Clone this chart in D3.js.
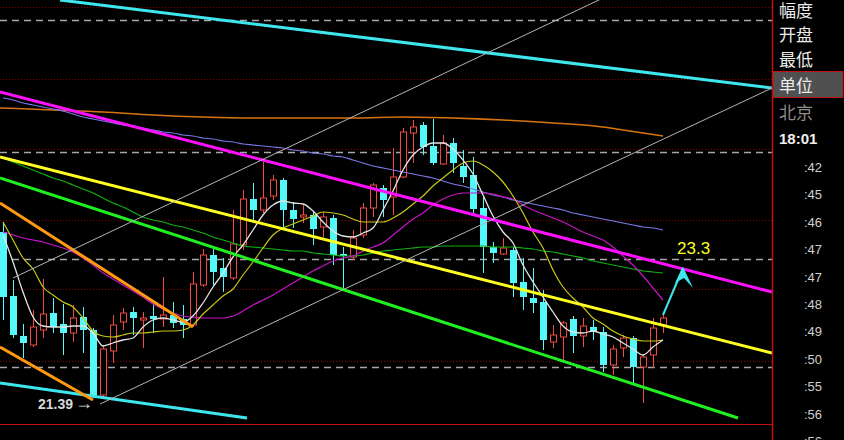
<!DOCTYPE html>
<html><head><meta charset="utf-8">
<script src="https://cdn.jsdelivr.net/npm/d3@7/dist/d3.min.js"></script>
<style>html,body{margin:0;padding:0;background:#000;overflow:hidden}</style>
</head><body><svg id="c" width="844" height="440"></svg>
<script>
// ---------- DATA ----------
const openP=[23.05,22.41,22.01,21.92,22.07,22.24,22.13,22.04,22.20,22.07,21.42,21.86,22.15,22.25,22.17,22.21,22.18,22.22,22.18,22.12,22.52,22.82,22.69,22.59,22.92,23.38,23.27,23.41,23.57,23.27,23.20,23.22,23.10,23.19,22.83,22.80,23.02,23.29,23.49,23.40,23.60,24.04,24.12,23.91,23.73,23.94,23.71,23.62,23.29,22.90,22.83,22.87,22.55,22.39,22.35,21.95,22.00,22.18,22.01,22.10,22.05,21.72,21.89,21.99,21.70,21.82,22.12];
const highP=[23.15,22.57,22.13,22.27,22.58,22.39,22.33,22.32,22.30,22.09,21.92,22.22,22.29,22.30,22.25,22.33,22.60,22.35,22.32,22.65,22.88,22.88,22.79,23.27,23.47,23.54,23.77,23.62,23.59,23.35,23.32,23.25,23.25,23.22,22.90,23.07,23.34,23.54,23.52,23.89,24.09,24.17,24.15,24.18,24.02,23.99,23.87,23.80,23.40,22.95,22.99,22.90,22.79,22.69,22.47,22.12,22.16,22.21,22.19,22.17,22.10,21.92,22.02,22.01,21.83,22.19,22.22];
const lowP=[22.17,21.99,21.79,21.90,21.99,22.04,21.82,21.95,21.84,21.39,21.40,21.74,22.07,22.02,21.89,22.04,22.10,22.09,21.99,22.10,22.50,22.52,22.45,22.57,22.87,23.16,23.24,23.37,23.10,23.09,23.14,22.92,23.00,22.72,22.49,22.77,22.99,23.20,23.20,23.22,23.59,23.74,23.82,23.72,23.72,23.64,23.54,23.24,22.64,22.74,22.82,22.40,22.27,22.24,21.87,21.89,21.77,21.84,21.90,21.97,21.65,21.62,21.80,21.54,21.34,21.69,22.04];
const closeP=[22.40,22.02,21.94,22.10,22.23,22.10,22.04,22.19,22.07,21.42,21.88,22.12,22.24,22.19,22.19,22.18,22.22,22.14,22.12,22.53,22.82,22.65,22.60,22.93,23.38,23.27,23.39,23.57,23.27,23.18,23.22,23.08,23.20,22.82,22.81,22.99,23.29,23.52,23.37,23.60,24.05,24.10,23.90,23.74,23.94,23.74,23.60,23.28,22.90,22.84,22.89,22.54,22.40,22.34,21.97,22.02,22.14,22.01,22.11,22.05,21.72,21.88,21.99,21.70,21.80,22.09,22.19];

const ma5=[23.02,22.75,22.45,22.20,22.11,22.10,22.10,22.11,22.11,22.04,21.91,21.94,21.97,21.99,22.10,22.17,22.19,22.17,22.15,22.21,22.34,22.50,22.64,22.80,22.92,23.07,23.22,23.32,23.36,23.34,23.33,23.26,23.15,23.06,23.01,23.00,23.04,23.09,23.27,23.46,23.67,23.82,23.90,23.94,23.94,23.88,23.77,23.63,23.42,23.21,23.05,22.94,22.72,22.55,22.40,22.25,22.11,22.05,22.04,22.06,22.03,22.00,21.94,21.88,21.82,21.90,21.97];
const ma10=[23.15,22.97,22.79,22.68,22.50,22.42,22.35,22.30,22.19,22.06,22.01,22.00,22.02,22.04,22.04,22.05,22.06,22.06,22.07,22.12,22.23,22.32,22.41,22.48,22.62,22.75,22.89,23.02,23.09,23.13,23.17,23.21,23.25,23.24,23.22,23.18,23.15,23.15,23.15,23.19,23.25,23.33,23.41,23.51,23.59,23.67,23.74,23.76,23.72,23.65,23.55,23.41,23.24,23.05,22.89,22.67,22.50,22.39,22.30,22.19,22.13,22.06,22.01,21.98,21.96,21.96,21.97];
const ma20=[23.05,23.02,22.99,22.97,22.95,22.92,22.89,22.85,22.79,22.72,22.64,22.58,22.52,22.46,22.40,22.33,22.28,22.24,22.21,22.20,22.19,22.19,22.19,22.21,22.26,22.32,22.37,22.42,22.48,22.54,22.60,22.66,22.71,22.76,22.79,22.81,22.86,22.90,22.94,23.02,23.10,23.18,23.24,23.32,23.38,23.42,23.44,23.44,23.44,23.43,23.40,23.38,23.32,23.27,23.23,23.19,23.15,23.10,23.05,23.01,22.97,22.90,22.81,22.72,22.61,22.49,22.37];
const ma60=[23.79,23.75,23.71,23.67,23.63,23.59,23.56,23.52,23.48,23.44,23.39,23.34,23.30,23.25,23.20,23.17,23.15,23.12,23.10,23.07,23.04,23.00,22.97,22.94,22.91,22.90,22.89,22.88,22.87,22.86,22.86,22.84,22.83,22.82,22.81,22.81,22.82,22.84,22.86,22.87,22.88,22.89,22.90,22.90,22.91,22.91,22.91,22.91,22.91,22.90,22.90,22.90,22.89,22.88,22.86,22.85,22.83,22.81,22.79,22.76,22.74,22.72,22.70,22.68,22.66,22.65,22.64];
const ma120=[24.39,24.37,24.34,24.32,24.30,24.28,24.26,24.23,24.20,24.18,24.16,24.14,24.12,24.11,24.09,24.07,24.05,24.04,24.02,24.01,23.99,23.98,23.96,23.95,23.93,23.92,23.91,23.90,23.89,23.87,23.86,23.84,23.83,23.81,23.80,23.77,23.74,23.71,23.69,23.67,23.65,23.63,23.61,23.59,23.56,23.53,23.51,23.48,23.45,23.42,23.40,23.37,23.35,23.33,23.31,23.29,23.27,23.24,23.22,23.20,23.18,23.16,23.14,23.12,23.10,23.09,23.07];
const ma250Idx=[-0.3,5,10,15,20,25,30,35,40,45,50,55,60,62,64,66];
const ma250=[24.29,24.27,24.25,24.22,24.20,24.19,24.19,24.19,24.20,24.19,24.17,24.14,24.10,24.07,24.04,24.01];

// drawn trend lines: [startIndex, startPrice, endIndex, endPrice]
const trendLines=[
  [5.7,25.37,76.9,24.49],   // cyan upper
  [-0.3,21.54,24.4,21.19],  // cyan lower
  [-0.3,24.45,76.9,22.45],  // magenta
  [-0.3,23.80,76.9,21.84],  // yellow
  [-0.3,23.59,73.5,21.19],  // green
  [-0.3,23.34,19.0,22.10],  // orange upper
  [-0.3,21.90,9.0,21.37],   // orange lower
  [1.0,22.59,60.0,25.39],   // gray channel A
  [9.7,21.33,76.9,24.49]    // gray channel B
];
const dashLevels=[25.17,23.85,22.78,21.70];
const dotLevels=[25.30,24.58,23.88,23.17,22.48,21.76];
const lowLabel="21.39", lowLabelIdx=9, lowLabelPrice=21.39;
const targetLabel="23.3", targetIdx=68, targetPrice=22.69, arrowFromIdx=66, arrowFromPrice=22.22;

const menuLabels=["幅度","开盘","最低","单位","北京"];
const timeLabel="18:01";
const tickLabels=[":42",":45",":46",":47",":47",":48",":49",":50",":55",":56",":56"];

// ---------- STYLES ----------
const trendStyle=[
  {c:"#3ee6ee",w:3},{c:"#3ee6ee",w:3},{c:"#ff10ff",w:3},{c:"#ffff20",w:3},
  {c:"#20f020",w:3},{c:"#ff9a10",w:3},{c:"#ff9a10",w:3},{c:"#b4b4b4",w:1},{c:"#b4b4b4",w:1}
];
const UP="#f04a44", DOWN="#54f8f8";

const svg=d3.select("#c");
svg.append("rect").attr("width",844).attr("height",440).attr("fill","#000");
const plotW=772, plotB=424;
const x=d3.scaleLinear().domain([-0.3,76.9]).range([0,plotW]);
const y=d3.scaleLinear().domain([20.97,25.37]).range([440,0]);

svg.append("defs").append("clipPath").attr("id","pc").append("rect")
  .attr("x",0).attr("y",0).attr("width",plotW).attr("height",plotB);
const g=svg.append("g").attr("clip-path","url(#pc)");

// grid
g.selectAll(".dot").data(dotLevels).join("line")
  .attr("x1",0).attr("x2",plotW).attr("y1",d=>Math.round(y(d))+0.5).attr("y2",d=>Math.round(y(d))+0.5)
  .attr("stroke","#8a0000").attr("stroke-dasharray","1,2");
g.selectAll(".dash").data(dashLevels).join("line")
  .attr("x1",0).attr("x2",plotW).attr("y1",d=>Math.round(y(d))+0.5).attr("y2",d=>Math.round(y(d))+0.5)
  .attr("stroke","#a8a8a8").attr("stroke-dasharray","7,5").attr("stroke-width",1.3);

// candles
const idx=d3.range(openP.length);
const cg=g.append("g");
idx.forEach(i=>{
  const o=openP[i],c=closeP[i],h=highP[i],l=lowP[i];
  const up=c>=o, col=up?UP:DOWN;
  const cx=Math.round(x(i));
  const top=y(Math.max(o,c)), bot=y(Math.min(o,c));
  cg.append("line").attr("x1",cx+0.5).attr("x2",cx+0.5).attr("y1",y(h)).attr("y2",top).attr("stroke",col);
  cg.append("line").attr("x1",cx+0.5).attr("x2",cx+0.5).attr("y1",bot).attr("y2",y(l)).attr("stroke",col);
  if(up){
    cg.append("rect").attr("x",cx-3+0.5).attr("y",top).attr("width",6).attr("height",Math.max(1,bot-top))
      .attr("fill","#000").attr("stroke",col);
  } else {
    cg.append("rect").attr("x",cx-3).attr("y",top).attr("width",7).attr("height",Math.max(1,bot-top))
      .attr("fill",col);
  }
});

// moving averages
const lineGen=d3.line().x(d=>x(d[0])).y(d=>y(d[1])).curve(d3.curveMonotoneX);
const maSets=[
  {v:ma250.map((p,k)=>[ma250Idx[k],p]),c:"#d87410",w:1.5},
  {v:ma120.map((p,i)=>[i,p]),c:"#7a78e8",w:1.2},
  {v:ma60.map((p,i)=>[i,p]),c:"#10b010",w:1.2},
  {v:ma20.map((p,i)=>[i,p]),c:"#c814c8",w:1.2},
  {v:ma10.map((p,i)=>[i,p]),c:"#c8c814",w:1.2},
  {v:ma5.map((p,i)=>[i,p]),c:"#e4e4e4",w:1.3}
];
maSets.forEach(m=>g.append("path").attr("d",lineGen(m.v)).attr("fill","none").attr("stroke",m.c).attr("stroke-width",m.w));

// trend lines
trendLines.forEach((t,k)=>{
  g.append("line").attr("x1",x(t[0])).attr("y1",y(t[1])).attr("x2",x(t[2])).attr("y2",y(t[3]))
   .attr("stroke",trendStyle[k].c).attr("stroke-width",trendStyle[k].w);
});

// arrow to target
const ax0=x(arrowFromIdx), ay0=y(arrowFromPrice), ax1=x(targetIdx), ay1=y(targetPrice);
g.append("line").attr("x1",ax0).attr("y1",ay0).attr("x2",ax1).attr("y2",ay1).attr("stroke","#3ee6ee").attr("stroke-width",2);
g.append("path").attr("d",`M${ax1},${ay1-1} L${ax1-8},${ay1+15} L${ax1+1},${ay1+10} L${ax1+10},${ay1+20} Z`).attr("fill","#3ee6ee");

// labels
svg.append("text").attr("x",x(targetIdx)-6).attr("y",y(targetPrice)-14).text(targetLabel)
  .attr("fill","#ffff20").attr("font-family","Liberation Sans, Arial, sans-serif").attr("font-size",17);
const ll=svg.append("text").attr("x",x(lowLabelIdx)-55).attr("y",y(lowLabelPrice)+11)
  .attr("fill","#d8d8d8").attr("font-family","Liberation Sans, Arial, sans-serif").attr("font-size",14).attr("font-weight","bold");
ll.append("tspan").text(lowLabel);
ll.append("tspan").attr("font-size",18).attr("font-weight","normal").attr("dx",2).text("→");

// frame
svg.append("line").attr("x1",0).attr("x2",plotW).attr("y1",plotB+0.5).attr("y2",plotB+0.5).attr("stroke","#c01010");
svg.append("line").attr("x1",plotW+0.5).attr("x2",plotW+0.5).attr("y1",0).attr("y2",440).attr("stroke","#c01010").attr("stroke-width",1.5);

// right panel
svg.append("rect").attr("x",plotW+1).attr("y",71.5).attr("width",70).attr("height",26).attr("fill","#505050").attr("stroke","#c01010");
const menuY=[17,41,66,92,119];
menuLabels.forEach((t,k)=>{
  svg.append("text").attr("x",779).attr("y",menuY[k]).text(t)
    .attr("fill",k===4?"#8c8c8c":"#ececec").attr("font-family","Noto Sans CJK SC").attr("font-size",17);
});
svg.append("text").attr("x",779).attr("y",144).text(timeLabel).attr("fill","#f0f0f0")
  .attr("font-family","Liberation Sans, Arial, sans-serif").attr("font-size",15).attr("font-weight","bold");
tickLabels.forEach((t,k)=>{
  svg.append("text").attr("x",822).attr("y",172+k*27.4).attr("text-anchor","end").text(t)
    .attr("fill","#d0d0d0").attr("font-family","Liberation Sans, Arial, sans-serif").attr("font-size",13);
});
</script></body></html>
